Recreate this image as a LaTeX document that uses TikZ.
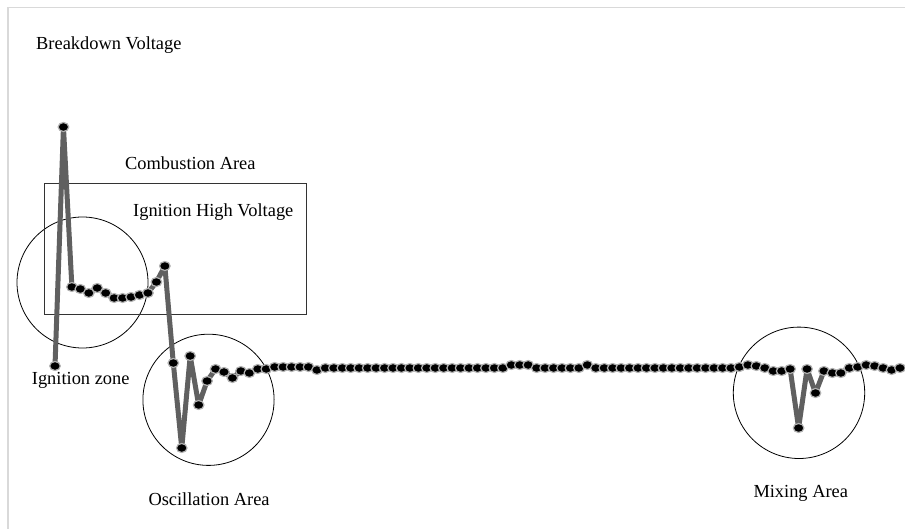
\documentclass[tikz,border=0pt]{standalone}
\usepackage{fontspec}
\setmainfont{Liberation Serif}
\usetikzlibrary{positioning}
\tikzset{
  tag text/.style={anchor=base west,inner sep=0pt,font=\fontsize{18.4}{22}\selectfont},
  area ring/.style={draw=black,line width=0.8pt},
  data dot/.style={fill=black,draw=gray!60,line width=1.2pt},
}

\begin{document}
\begin{tikzpicture}[x=1pt,y=-1pt]
\useasboundingbox (0,0) rectangle (905,529);
\draw[gray!30,line width=1.5pt] (8,529) -- (8,7.5) -- (905,7.5);
% marked areas
\draw[area ring] (82.5,282.5) circle[radius=65.5];
\draw[area ring] (208.5,399.8) circle[radius=65.6];
\draw[area ring] (799,392.8) circle[radius=65.7];
\draw[draw=black!80,line width=0.8pt] (44,183.3) rectangle (306.7,314);
% measured voltage
\foreach \v [count=\i from 0] in {366,127,287,289,293,288,293,298,298,297,295,293,282,266,
  363,448,356,405,381,369,372,378,371,373,369,369,
  367,367,367,367,367,370,
  368,368,368,368,368,368,368,368,368,368,368,368,368,368,368,368,368,368,368,368,368,368,
  365,365,365,368,368,368,368,368,368,365,
  368,368,368,368,368,368,368,368,368,368,368,368,368,368,368,368,368,367,
  365,366,368,371,371,369,428,369,393,371,373,373,368,367,365,366,368,370,368}
  \coordinate (p\i) at ({55+8.45*\i},\v);
\draw[line width=5pt,gray!75!black,line join=round] (p0) \foreach \i in {1,...,100} {-- (p\i)};
\foreach \i in {0,...,100} \fill[data dot] (p\i) ellipse[x radius=5.3,y radius=4.5];
% labels
\node[tag text] (breakdown) at (36,50) {Breakdown Voltage};
\node[tag text] (combustion) at (125,169.5) {Combustion Area};
\node[tag text] (ignitionhv) at (133,216.5) {Ignition High Voltage};
\node[tag text] (ignitionzone) at (31.7,384.5) {Ignition zone};
\node[tag text] (oscillation) at (148.3,505.7) {Oscillation Area};
\node[tag text] (mixing) at (753.3,497.3) {Mixing Area};
\end{tikzpicture}
\end{document}
